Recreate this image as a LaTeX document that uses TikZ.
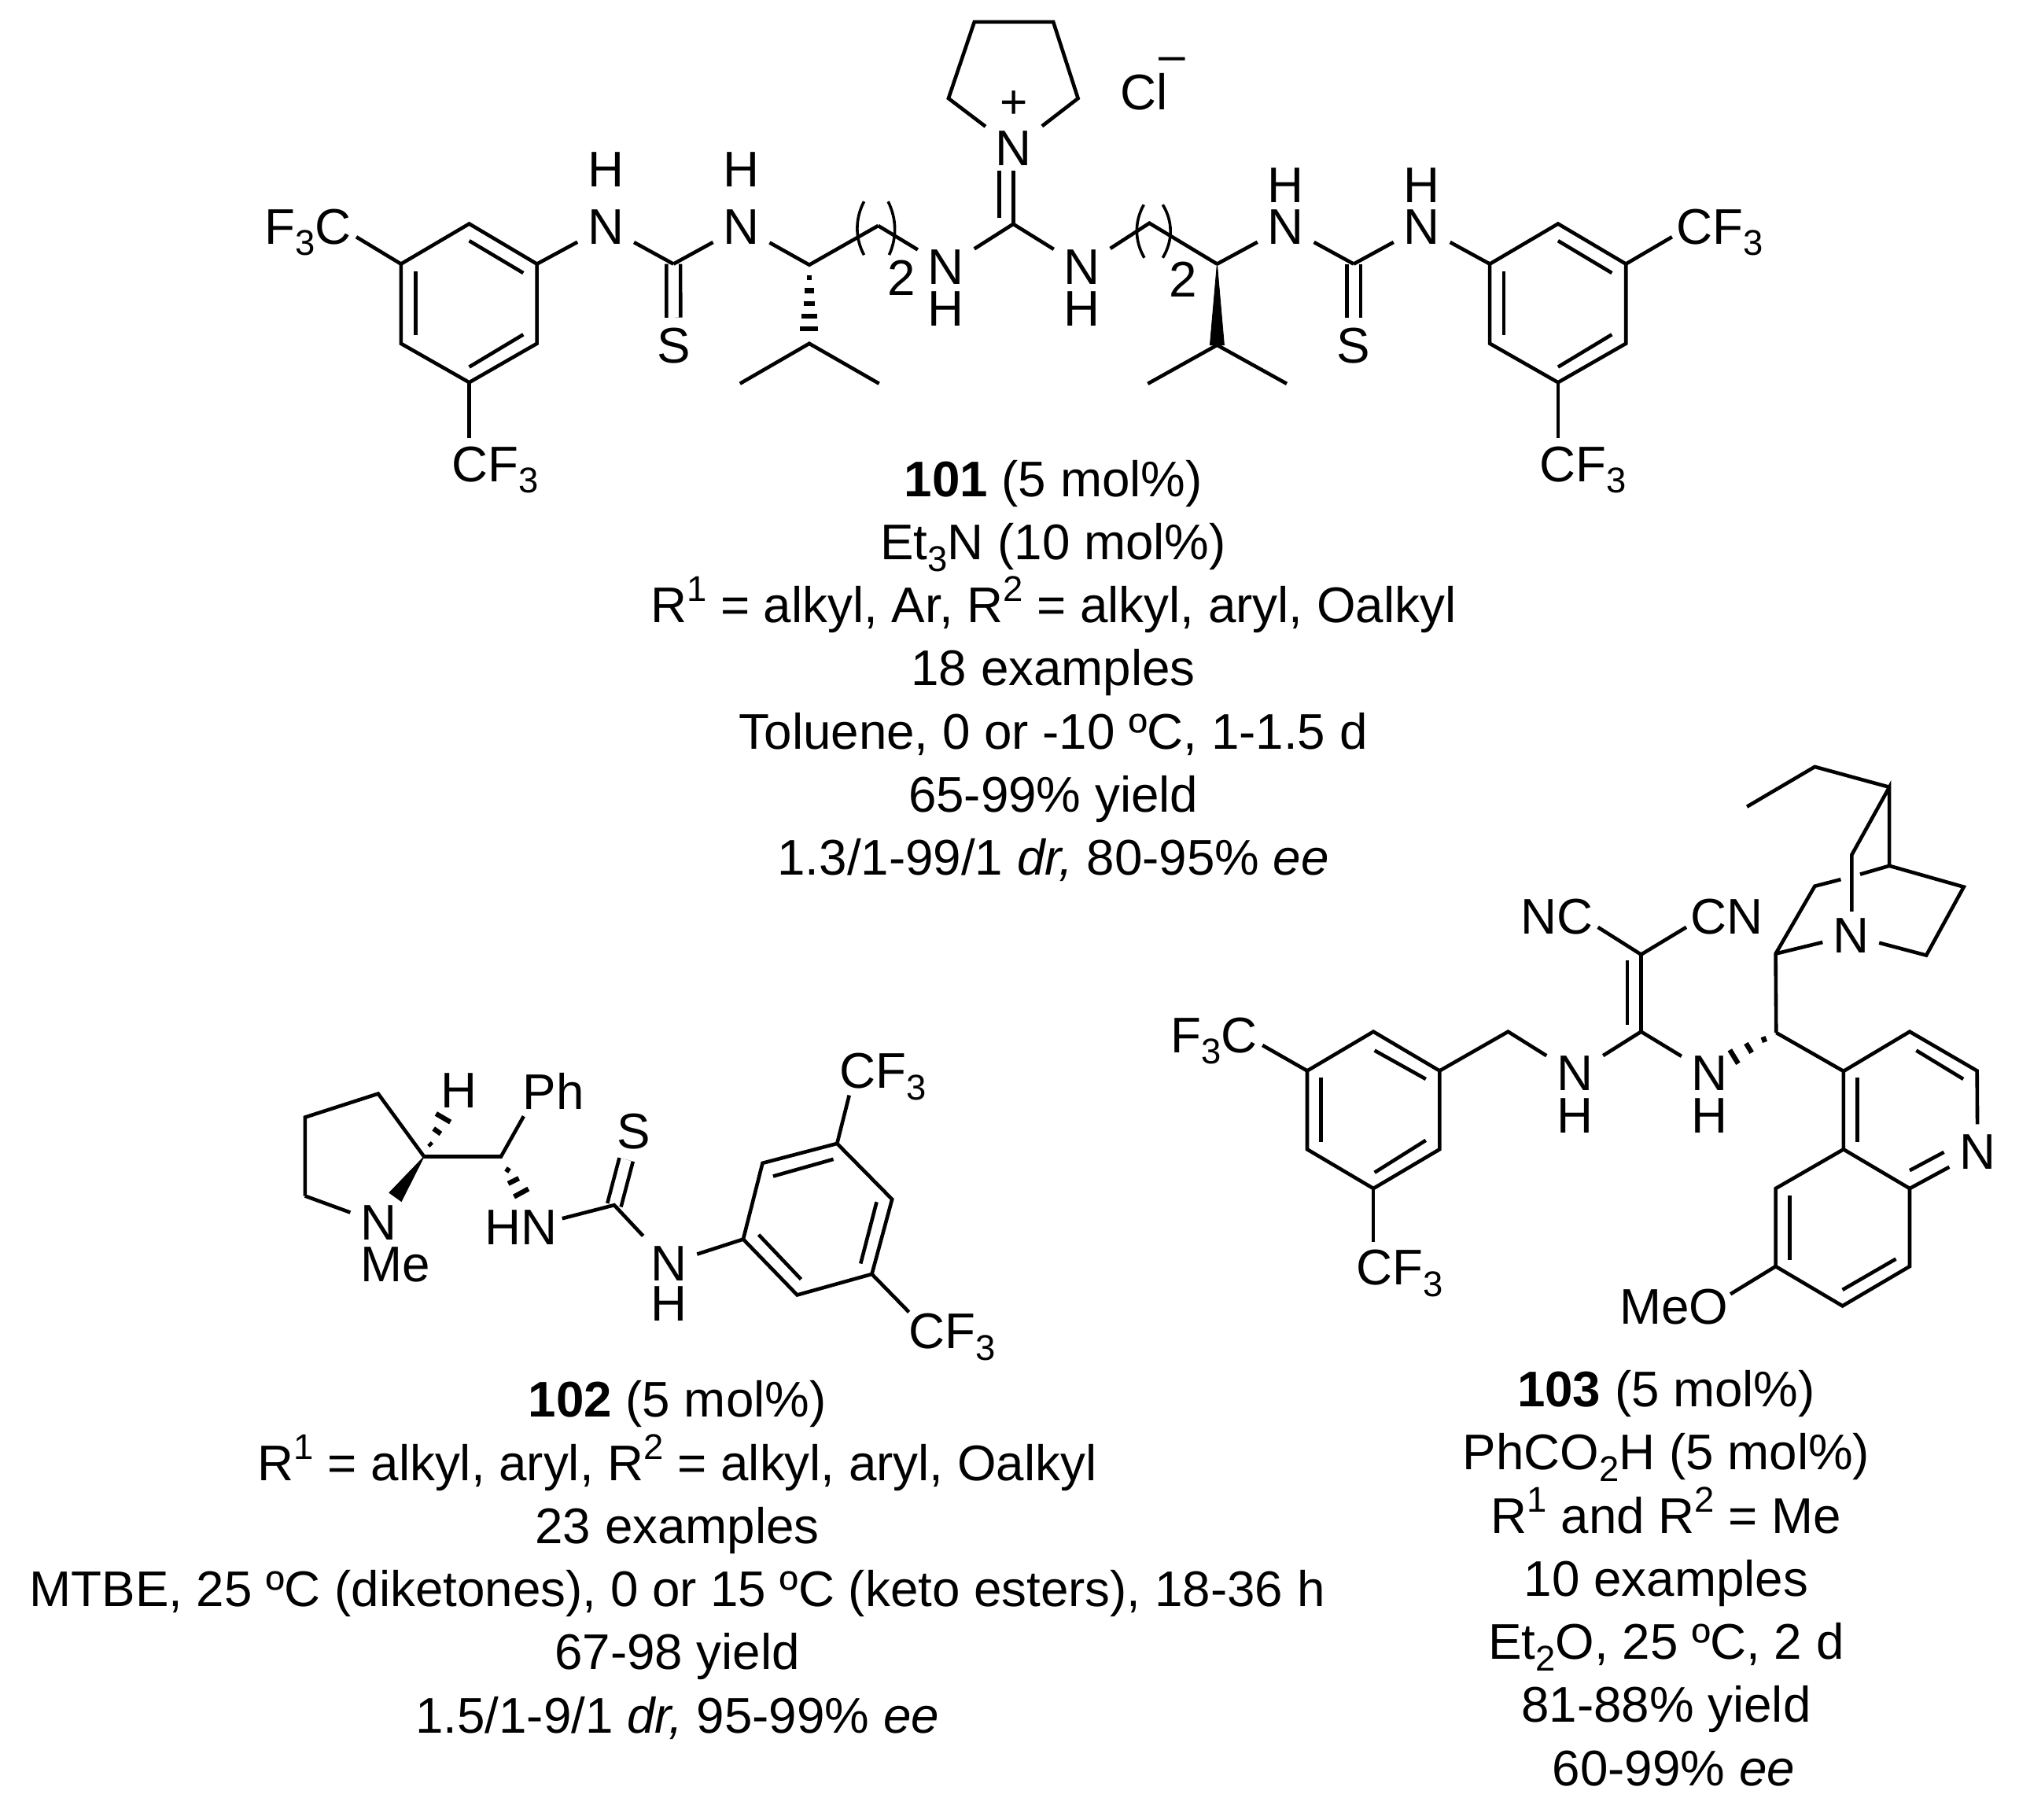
\documentclass[tikz,border=0pt]{standalone}
\usepackage{fontspec}
\setmainfont{Liberation Sans}
\usepackage{xcolor}
\usetikzlibrary{positioning,calc}
\newcommand{\chemfont}{\fontsize{22.15}{27.9}\selectfont}
\newcommand{\chemsub}[1]{\raisebox{-0.23em}{\fontsize{15.8}{15.8}\selectfont #1}}
\newcommand{\chemsup}[1]{\raisebox{0.42em}{\fontsize{15.8}{15.8}\selectfont #1}}
\tikzset{
  bond/.style={line width=1.6pt},
  thio/.style={line width=1.6pt, double, double distance=4.6pt},
  thin paren/.style={line width=1.25pt},
  wedge/.style={fill=black, draw=black, line width=0.3pt},
  atom/.style={font=\chemfont, anchor=base, inner sep=0pt, outer sep=4.5pt},
  group/.style={font=\chemfont, anchor=base, inner sep=0pt},
  charge/.style={font=\fontsize{21}{21}\selectfont, inner sep=0pt},
  conditions/.style={font=\chemfont, align=center, anchor=north, inner sep=0pt}
}

\begin{document}
\begin{tikzpicture}[x=0.02cm, y=-0.02cm]
\useasboundingbox (0,0) rectangle (1568,1413);

% ---- 101: left aryl ring
\coordinate (la1) at (364.4,173.8);
\coordinate (la2) at (417,205);
\coordinate (la3) at (417,266.8);
\coordinate (la4) at (364.4,297);
\coordinate (la5) at (311.4,266.8);
\coordinate (la6) at (311.4,205);
\draw[bond] (la1) -- (la2) -- (la3) -- (la4) -- (la5) -- (la6) -- cycle;
\draw[bond] (364.4,187) -- (406.4,212);
\draw[bond] (322.7,210.7) -- (322.7,260.5);
\draw[bond] (406.4,259.8) -- (364.4,285);

% 101: left CF3 groups
\node[group] (ftA) at (239,189.5) {F\chemsub{3}C};
\node[group] (cfA) at (384.8,374) {CF\chemsub{3}};
\coordinate (ftAend) at (276.7,184);
\coordinate (cfAend) at (364.4,340.3);
\draw[bond] (la6) -- (ftAend);
\draw[bond] (la4) -- (cfAend);

% 101: left thiourea
\node[atom] (nA) at (470.4,189.5) {N};
\node[atom] (hA) at (470.4,145) {H};
\node[atom] (nB) at (575.7,189.5) {N};
\node[atom] (hB) at (575.7,145) {H};
\node[atom] (sA) at (523.1,281.7) {S};
\coordinate (tuA) at (523,205);
\draw[thio] (tuA) -- (sA);
\draw[bond] (la2) -- (nA);
\draw[bond] (nA) -- (tuA);
\draw[bond] (tuA) -- (nB);

% 101: left stereocentre, isopropyl and chain
\coordinate (stA) at (628.5,205.7);
\coordinate (ipA) at (628.5,266.8);
\coordinate (meA) at (574.7,297.9);
\coordinate (meB) at (682.7,297.9);
\coordinate (chA) at (682,175.3);
\draw[bond] (nB) -- (stA) -- (chA);
\draw[bond] (meA) -- (ipA) -- (meB);
\draw[line width=2.2pt] (626.5,215.6) -- (630.5,215.6);
\draw[line width=2.2pt] (625,225.6) -- (632,225.6);
\draw[line width=2.2pt] (624.2,235.6) -- (632.8,235.6);
\draw[line width=2.2pt] (622.6,245.6) -- (634.4,245.6);
\draw[line width=2.2pt] (621.5,255.5) -- (635.5,255.5);
\draw[thin paren] (671,156.5) .. controls (664,170) and (664,185) .. (671,198);
\draw[thin paren] (689.7,156.5) .. controls (696.5,170) and (696.5,185) .. (690.5,198);
\node[group] (twoA) at (700.3,229.4) {2};

% 101: guanidinium centre and pyrrolidine
\node[atom] (nC) at (734.7,220.6) {N};
\node[atom] (hC) at (734.7,253) {H};
\node[atom] (nD) at (840.3,220.6) {N};
\node[atom] (hD) at (840.3,253) {H};
\node[atom] (nIm) at (787.3,128.3) {N};
\node[charge] (plus) at (787.3,81) {+};
\node[group] (cl) at (888.5,85) {Cl};
\node[charge] (minus) at (910.5,50) {–};
\coordinate (guC) at (786.9,174);
\coordinate (pyA) at (736.6,76.4);
\coordinate (pyB) at (756.7,17);
\coordinate (pyC) at (818,17);
\coordinate (pyD) at (837.2,76.4);
\draw[bond] (chA) -- (nC);
\draw[bond] (nC) -- (guC) -- (nD);
\draw[bond] (guC) -- (786.9,132.7);
\draw[bond] (775.9,169) -- (775.9,132.7);
\draw[bond] (nIm) -- (pyA) -- (pyB) -- (pyC) -- (pyD) -- (nIm);

% 101: right stereocentre, isopropyl and chain
\coordinate (chB) at (892.6,173.3);
\coordinate (stB) at (945.2,205);
\coordinate (ipB) at (945.2,268);
\coordinate (meC) at (891.4,298);
\coordinate (meD) at (999.3,298);
\draw[bond] (nD) -- (chB) -- (stB);
\draw[bond] (meC) -- (ipB) -- (meD);
\fill[wedge] (stB) -- (950.7,268) -- (939.7,268) -- cycle;
\draw[thin paren] (888.3,159) .. controls (881,172) and (881,187) .. (888.7,200.2);
\draw[thin paren] (903,159) .. controls (911,172) and (911,187) .. (903,200.2);
\node[group] (twoB) at (918.8,230.6) {2};

% 101: right thiourea
\node[atom] (nE) at (998.5,189.5) {N};
\node[atom] (hE) at (998.5,157) {H};
\node[atom] (nF) at (1104.2,189.5) {N};
\node[atom] (hF) at (1104.2,157) {H};
\node[atom] (sB) at (1051.3,281.7) {S};
\coordinate (tuB) at (1051.3,205);
\draw[thio] (tuB) -- (sB);
\draw[bond] (stB) -- (nE);
\draw[bond] (nE) -- (tuB);
\draw[bond] (tuB) -- (nF);

% 101: right aryl ring
\coordinate (ra1) at (1210,173.8);
\coordinate (ra2) at (1262.7,205);
\coordinate (ra3) at (1262.7,266.8);
\coordinate (ra4) at (1210,297);
\coordinate (ra5) at (1157,266.8);
\coordinate (ra6) at (1157,205);
\draw[bond] (ra1) -- (ra2) -- (ra3) -- (ra4) -- (ra5) -- (ra6) -- cycle;
\draw[bond] (1210,187) -- (1251.8,212);
\draw[bond] (1168,210.7) -- (1168,260.5);
\draw[bond] (1251.8,259.8) -- (1210,285);
\draw[bond] (nF) -- (ra6);
\node[group] (cfB) at (1335.5,189.5) {CF\chemsub{3}};
\node[group] (cfC) at (1229.3,374) {CF\chemsub{3}};
\coordinate (cfBend) at (1298.5,184);
\coordinate (cfCend) at (1210,340.3);
\draw[bond] (ra2) -- (cfBend);
\draw[bond] (ra4) -- (cfCend);

% 101: conditions
\node[conditions] (textA) at (818,357) {\textbf{101} (5 mol\%)\\
  Et\chemsub{3}N (10 mol\%)\\
  R\chemsup{1} = alkyl, Ar, R\chemsup{2} = alkyl, aryl, Oalkyl\\
  18 examples\\
  Toluene, 0 or -10 ºC, 1-1.5 d\\
  65-99\% yield\\
  1.3/1-99/1 \textit{dr,} 80-95\% \textit{ee}};

% ---- 102: pyrrolidine
\node[atom] (nG) at (294,963) {N};
\node[group] (meG) at (306.8,995.6) {Me};
\node[atom] (hG) at (356.3,860.2) {H};
\node[group] (ph) at (429.9,861.8) {Ph};
\coordinate (pa) at (236.9,867.7);
\coordinate (pb) at (293.7,849.4);
\coordinate (pc) at (329.3,898.2);
\coordinate (pd) at (236.9,928.8);
\coordinate (pe) at (389.1,898.2);
\coordinate (phend) at (406.7,866.9);
\draw[bond] (pd) -- (pa) -- (pb) -- (pc) -- (pe) -- (phend);
\draw[bond] (pd) -- (nG);
\fill[wedge] (pc) -- (311.7,933) -- (302.3,926.3) -- cycle;
\draw[line width=2.2pt] (333.2,887.8) -- (335.2,889.8);
\draw[line width=2.2pt] (336.7,876.5) -- (342.3,880.5);
\draw[line width=2.2pt] (338.6,864.9) -- (349.8,871.4);
\draw[line width=2.2pt] (392.8,907.6) -- (395.8,909.6);
\draw[line width=2.2pt] (394.7,919.2) -- (402.9,915.1);
\draw[line width=2.2pt] (399.2,929.4) -- (410.4,923.3);

% 102: thiourea
\node[group] (hnG) at (404.6,966.7) {HN};
\node[atom] (nH) at (519.4,994.5) {N};
\node[atom] (hH) at (519.4,1026.1) {H};
\node[atom] (sC) at (492,892.3) {S};
\coordinate (tuC) at (477,935.9);
\coordinate (hnend) at (436.6,946.3);
\draw[thio] (tuC) -- (sC);
\draw[bond] (hnend) -- (tuC) -- (nH);

% 102: aryl ring
\coordinate (ba1) at (577.2,962.4);
\coordinate (ba2) at (592.2,903.3);
\coordinate (ba3) at (650.1,888.1);
\coordinate (ba4) at (692.8,931.4);
\coordinate (ba5) at (677.1,989.5);
\coordinate (ba6) at (619.1,1005.7);
\draw[bond] (ba1) -- (ba2) -- (ba3) -- (ba4) -- (ba5) -- (ba6) -- cycle;
\draw[bond] (600.4,913.5) -- (647.2,900.3);
\draw[bond] (680.8,933.5) -- (668.4,981.3);
\draw[bond] (622.1,993.5) -- (589.2,958.9);
\draw[bond] (nH) -- (ba1);
\node[group] (cfD) at (685.7,845) {CF\chemsub{3}};
\node[group] (cfE) at (739.3,1047.5) {CF\chemsub{3}};
\coordinate (cfDend) at (659.5,850.6);
\coordinate (cfEend) at (705.9,1019);
\draw[bond] (ba3) -- (cfDend);
\draw[bond] (ba5) -- (cfEend);

% 102: conditions
\node[conditions] (textB) at (526,1072) {\textbf{102} (5 mol\%)\\
  R\chemsup{1} = alkyl, aryl, R\chemsup{2} = alkyl, aryl, Oalkyl\\
  23 examples\\
  MTBE, 25 ºC (diketones), 0 or 15 ºC (keto esters), 18-36 h\\
  67-98 yield\\
  1.5/1-9/1 \textit{dr,} 95-99\% \textit{ee}};

% ---- 103: aryl ring
\coordinate (ca1) at (1066.6,801.2);
\coordinate (ca2) at (1118,831.6);
\coordinate (ca3) at (1118,892.6);
\coordinate (ca4) at (1066.6,923);
\coordinate (ca5) at (1015.2,892.6);
\coordinate (ca6) at (1015.2,831.6);
\draw[bond] (ca1) -- (ca2) -- (ca3) -- (ca4) -- (ca5) -- (ca6) -- cycle;
\draw[bond] (1067.5,815.8) -- (1107.3,838);
\draw[bond] (1026,837) -- (1026,887.2);
\draw[bond] (1107.3,885.6) -- (1067.5,910.6);
\node[group] (ftB) at (943,817.3) {F\chemsub{3}C};
\node[group] (cfF) at (1086.8,998) {CF\chemsub{3}};
\coordinate (ftBend) at (980.5,811.8);
\coordinate (cfFend) at (1066.6,964.6);
\draw[bond] (ca6) -- (ftBend);
\draw[bond] (ca4) -- (cfFend);

% 103: dicyanoethene core
\node[atom] (nJ) at (1223,847) {N};
\node[atom] (hJ) at (1223,879.6) {H};
\node[atom] (nK) at (1327.8,847) {N};
\node[atom] (hK) at (1327.8,879.6) {H};
\node[group] (nc) at (1209.3,725.5) {NC};
\node[group] (cn) at (1341.2,725.5) {CN};
\coordinate (chC) at (1171.2,801.2);
\coordinate (coA) at (1274.5,801.2);
\coordinate (coB) at (1274.5,741.3);
\coordinate (ncend) at (1241,720.1);
\coordinate (cnend) at (1309.6,720.1);
\draw[bond] (ca2) -- (chC) -- (nJ);
\draw[bond] (nJ) -- (coA) -- (nK);
\draw[bond] (coA) -- (coB);
\draw[bond] (1263.7,796) -- (1263.7,745.9);
\draw[bond] (ncend) -- (coB) -- (cnend);

% 103: quinuclidine
\node[atom] (nQ) at (1437.4,739.8) {N};
\coordinate (stC) at (1379.4,802);
\coordinate (qa) at (1379,740.7);
\coordinate (qb) at (1409.4,688.2);
\coordinate (qc) at (1467.3,672.4);
\coordinate (qd) at (1525.1,688.8);
\coordinate (qe) at (1496,741.9);
\coordinate (qf) at (1467.3,611.3);
\coordinate (qg) at (1438.1,663.9);
\coordinate (qh) at (1409.4,595.5);
\coordinate (qi) at (1356.7,626.5);
\draw[bond] (stC) -- (qa) -- (qb) -- (1429.6,683);
\draw[bond] (1444.6,679) -- (qc) -- (qd) -- (qe) -- (nQ);
\draw[bond] (qa) -- (nQ);
\draw[bond] (qc) -- (qf) -- (qg) -- (1438.1,707.9);
\draw[bond] (qf) -- (qh) -- (qi);
\draw[line width=2.2pt] (1369.2,805.2) -- (1370.7,809.3);
\draw[line width=2.2pt] (1356,810.3) -- (1360.4,817.5);
\draw[line width=2.2pt] (1343.4,815.4) -- (1349.9,826);

% 103: quinoline
\node[atom] (nR) at (1535.8,907.8) {N};
\node[group] (meo) at (1300,1028.4) {MeO};
\coordinate (qa1) at (1431.7,831.9);
\coordinate (qa2) at (1483.1,801.2);
\coordinate (qa3) at (1535.4,831.6);
\coordinate (qa4) at (1483.1,923);
\coordinate (qa5) at (1431.7,892.6);
\coordinate (qa6) at (1379,923);
\coordinate (qa7) at (1379,983.5);
\coordinate (qa8) at (1430.9,1014.2);
\coordinate (qa9) at (1483.1,983.5);
\coordinate (oend) at (1343.9,1005);
\draw[bond] (stC) -- (qa1) -- (qa2) -- (qa3) -- (nR) -- (qa4) -- (qa5) -- (qa1);
\draw[bond] (qa5) -- (qa6) -- (qa7) -- (qa8) -- (qa9) -- (qa4);
\draw[bond] (qa7) -- (oend);
\draw[bond] (1442.4,837) -- (1442.4,887.2);
\draw[bond] (1488.2,815.8) -- (1524.7,838);
\draw[bond] (1483.1,909) -- (1509.7,894.8);
\draw[bond] (1390.1,928.2) -- (1390.1,978.3);
\draw[bond] (1430.9,1001.7) -- (1472.4,977.7);

% 103: conditions
\node[conditions] (textC) at (1294,1064) {\textbf{103} (5 mol\%)\\
  PhCO\chemsub{2}H (5 mol\%)\\
  R\chemsup{1} and R\chemsup{2} = Me\\
  10 examples\\
  Et\chemsub{2}O, 25 ºC, 2 d\\
  81-88\% yield\\
  \hspace*{0.3em}60-99\% \textit{ee}};

\end{tikzpicture}
\end{document}
